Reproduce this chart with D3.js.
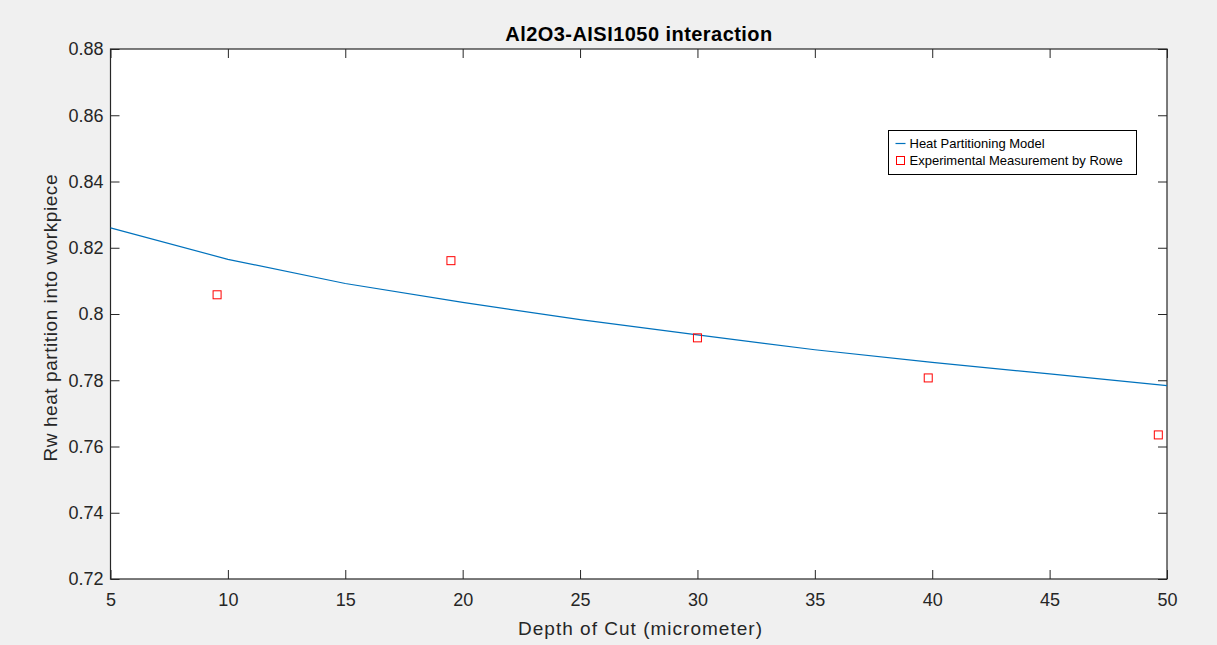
<!DOCTYPE html>
<html>
<head>
<meta charset="utf-8">
<script src="https://cdn.jsdelivr.net/npm/d3@7"></script>
<style>
  body { margin: 0; background: #f0f0f0; }
  svg { display: block; font-family: Arial, "Liberation Sans", sans-serif; }
</style>
</head>
<body>
<svg width="1217" height="645"></svg>
<script>
// model curve (depth of cut -> Rw)
var modelDepth = [5, 10, 15, 20, 25, 30, 35, 40, 45, 50];
var modelRw = [0.8260, 0.8165, 0.8092, 0.8035, 0.7983, 0.7937, 0.7892, 0.7854, 0.7819, 0.7784];

// measurements by Rowe
var expDepth = [9.54, 19.5, 30.0, 39.83, 49.63];
var expRw = [0.8058, 0.8161, 0.7928, 0.7807, 0.7635];

var xTicks = [5, 10, 15, 20, 25, 30, 35, 40, 45, 50];
var yTicks = [0.72, 0.74, 0.76, 0.78, 0.8, 0.82, 0.84, 0.86, 0.88];

var margin = { top: 49, right: 50, bottom: 66, left: 110.5 };

var svg = d3.select('svg'),
    width = +svg.attr('width') - margin.left - margin.right,
    height = +svg.attr('height') - margin.top - margin.bottom;

var x = d3.scaleLinear().domain([5, 50]).range([0, width]);
var y = d3.scaleLinear().domain([0.72, 0.88]).range([height, 0]);

var g = svg.append('g')
    .attr('transform', 'translate(' + margin.left + ',' + margin.top + ')');

g.append('rect')
    .attr('width', width)
    .attr('height', height)
    .attr('fill', '#fff');

var fmtY = function (d) { return d === 0.8 ? '0.8' : d3.format('.2f')(d); };

function styleAxis(sel, showText) {
    sel.select('.domain').remove();
    sel.selectAll('line').attr('stroke', '#262626');
    sel.selectAll('text')
        .attr('fill', '#262626')
        .style('font-size', '18px')
        .style('display', showText ? null : 'none');
}

g.append('g')
    .attr('transform', 'translate(0,' + height + ')')
    .call(d3.axisBottom(x).tickValues(xTicks).tickSize(-9).tickPadding(14))
    .call(styleAxis, true);
g.append('g')
    .call(d3.axisTop(x).tickValues(xTicks).tickSize(-9))
    .call(styleAxis, false);
g.append('g')
    .call(d3.axisLeft(y).tickValues(yTicks).tickFormat(fmtY).tickSize(-9).tickPadding(7))
    .call(styleAxis, true);
g.append('g')
    .attr('transform', 'translate(' + width + ',0)')
    .call(d3.axisRight(y).tickValues(yTicks).tickSize(-9))
    .call(styleAxis, false);

g.append('rect')
    .attr('width', width)
    .attr('height', height)
    .attr('fill', 'none')
    .attr('stroke', '#262626')
    .attr('stroke-width', 1.2);

var line = d3.line()
    .x(function (d, i) { return x(modelDepth[i]); })
    .y(function (d) { return y(d); });

g.append('path')
    .datum(modelRw)
    .attr('d', line)
    .attr('fill', 'none')
    .attr('stroke', '#0072bd')
    .attr('stroke-width', 1.2);

g.selectAll('.pt')
    .data(expRw)
    .enter().append('rect')
    .attr('class', 'pt')
    .attr('x', function (d, i) { return x(expDepth[i]) - 4; })
    .attr('y', function (d) { return y(d) - 4; })
    .attr('width', 8)
    .attr('height', 8)
    .attr('fill', 'none')
    .attr('stroke', '#ff0000')
    .attr('stroke-width', 1);

// title and axis labels
svg.append('text')
    .attr('x', margin.left + width / 2)
    .attr('y', 41)
    .attr('text-anchor', 'middle')
    .attr('textLength', 267)
    .attr('lengthAdjust', 'spacing')
    .style('font-size', '20px')
    .style('font-weight', 'bold')
    .attr('fill', '#000')
    .text('Al2O3-AISI1050 interaction');

svg.append('text')
    .attr('x', 640)
    .attr('y', 635)
    .attr('text-anchor', 'middle')
    .attr('textLength', 244)
    .attr('lengthAdjust', 'spacing')
    .style('font-size', '19px')
    .attr('fill', '#262626')
    .text('Depth of Cut (micrometer)');

svg.append('text')
    .attr('transform', 'translate(57,318) rotate(-90)')
    .attr('text-anchor', 'middle')
    .attr('textLength', 287)
    .attr('lengthAdjust', 'spacing')
    .style('font-size', '19px')
    .attr('fill', '#262626')
    .text('Rw heat partition into workpiece');

// legend
var leg = svg.append('g').attr('transform', 'translate(888.5,130.5)');
leg.append('rect')
    .attr('width', 248)
    .attr('height', 44)
    .attr('fill', '#fff')
    .attr('stroke', '#000')
    .attr('stroke-width', 1);
leg.append('line')
    .attr('x1', 7).attr('x2', 17)
    .attr('y1', 13).attr('y2', 13)
    .attr('stroke', '#0072bd')
    .attr('stroke-width', 1.2);
leg.append('rect')
    .attr('x', 8).attr('y', 26)
    .attr('width', 8).attr('height', 8)
    .attr('fill', 'none')
    .attr('stroke', '#ff0000');
leg.append('text')
    .attr('x', 21).attr('y', 17.5)
    .style('font-size', '13px')
    .attr('fill', '#000')
    .text('Heat Partitioning Model');
leg.append('text')
    .attr('x', 21).attr('y', 34.5)
    .style('font-size', '13px')
    .attr('fill', '#000')
    .text('Experimental Measurement by Rowe');
</script>
</body>
</html>
